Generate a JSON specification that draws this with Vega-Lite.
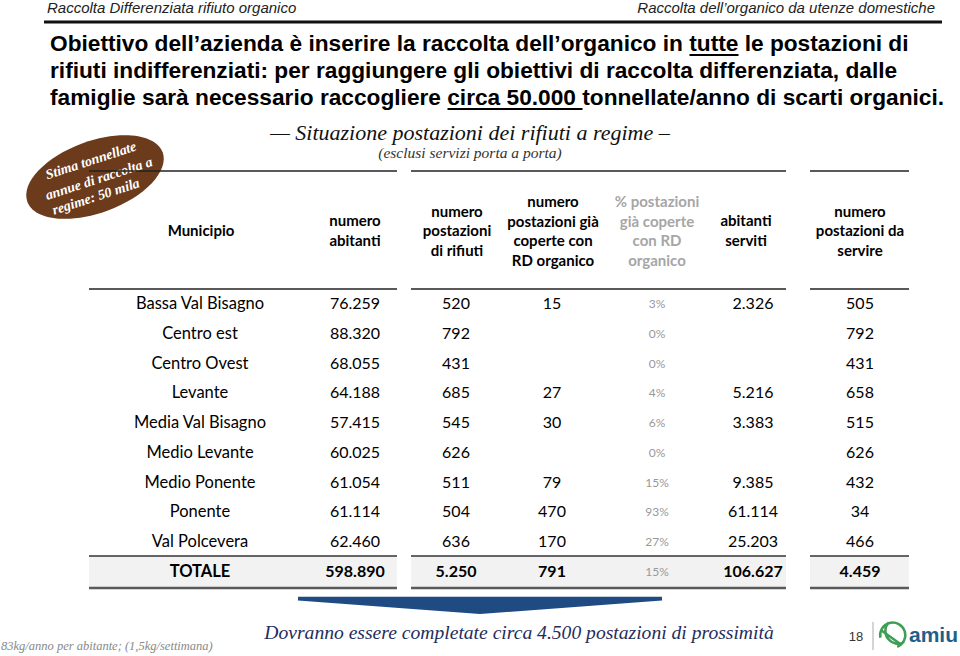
{
  "$schema": "https://vega.github.io/schema/vega-lite/v6.json",
  "width": 960,
  "height": 656,
  "autosize": {"type": "fit", "contains": "padding"},
  "padding": 0,
  "background": "white",
  "config": {
    "view": {"stroke": null},
    "axis": {"disable": true},
    "locale": {"number": {"decimal": ",", "thousands": ".", "grouping": [3], "currency": ["€", ""]}}
  },
  "resolve": {"scale": {"y": "independent"}},
  "layer": [
    {
      "data": {"values": [{}]},
      "layer": [
        {"mark": {"type": "text", "text": "Raccolta Differenziata rifiuto organico", "font": "Liberation Sans Narrow, Arial Narrow, Liberation Sans", "fontStyle": "italic", "fontSize": 15, "align": "left", "baseline": "middle", "color": "#222"},
         "encoding": {"x": {"datum": 47, "type": "quantitative", "scale": {"domain": [0, 960]}}, "y": {"datum": 8, "type": "quantitative", "scale": {"domain": [0, 656], "reverse": true}}}},
        {"mark": {"type": "text", "text": "Raccolta dell’organico da utenze domestiche", "font": "Liberation Sans Narrow, Arial Narrow, Liberation Sans", "fontStyle": "italic", "fontSize": 15, "align": "right", "baseline": "middle", "color": "#222"},
         "encoding": {"x": {"datum": 935, "type": "quantitative", "scale": {"domain": [0, 960]}}, "y": {"datum": 8, "type": "quantitative", "scale": {"domain": [0, 656], "reverse": true}}}},
        {"mark": {"type": "rule", "color": "#111", "strokeWidth": 3},
         "encoding": {"x": {"datum": 44, "type": "quantitative", "scale": {"domain": [0, 960]}}, "x2": {"datum": 942}, "y": {"datum": 22, "type": "quantitative", "scale": {"domain": [0, 656], "reverse": true}}}},
        {"mark": {"type": "text", "text": "Obiettivo dell’azienda è inserire la raccolta dell’organico in tutte le postazioni di", "font": "Liberation Sans Narrow, Arial Narrow, Liberation Sans", "fontWeight": "bold", "fontSize": 22.7, "align": "left", "baseline": "alphabetic", "color": "#000"},
         "encoding": {"x": {"datum": 50, "type": "quantitative", "scale": {"domain": [0, 960]}}, "y": {"datum": 51, "type": "quantitative", "scale": {"domain": [0, 656], "reverse": true}}}},
        {"mark": {"type": "text", "text": "rifiuti indifferenziati: per raggiungere gli obiettivi di raccolta differenziata, dalle", "font": "Liberation Sans Narrow, Arial Narrow, Liberation Sans", "fontWeight": "bold", "fontSize": 22.7, "align": "left", "baseline": "alphabetic", "color": "#000"},
         "encoding": {"x": {"datum": 50, "type": "quantitative", "scale": {"domain": [0, 960]}}, "y": {"datum": 78, "type": "quantitative", "scale": {"domain": [0, 656], "reverse": true}}}},
        {"mark": {"type": "text", "text": "famiglie sarà necessario raccogliere circa 50.000 tonnellate/anno di scarti organici.", "font": "Liberation Sans Narrow, Arial Narrow, Liberation Sans", "fontWeight": "bold", "fontSize": 22.7, "align": "left", "baseline": "alphabetic", "color": "#000"},
         "encoding": {"x": {"datum": 50, "type": "quantitative", "scale": {"domain": [0, 960]}}, "y": {"datum": 105, "type": "quantitative", "scale": {"domain": [0, 656], "reverse": true}}}},
        {"mark": {"type": "rule", "color": "#000", "strokeWidth": 2},
         "encoding": {"x": {"datum": 689.5, "type": "quantitative", "scale": {"domain": [0, 960]}}, "x2": {"datum": 738.5}, "y": {"datum": 55, "type": "quantitative", "scale": {"domain": [0, 656], "reverse": true}}}},
        {"mark": {"type": "rule", "color": "#000", "strokeWidth": 2},
         "encoding": {"x": {"datum": 447.5, "type": "quantitative", "scale": {"domain": [0, 960]}}, "x2": {"datum": 582.5}, "y": {"datum": 109, "type": "quantitative", "scale": {"domain": [0, 656], "reverse": true}}}},
        {"mark": {"type": "text", "text": "— Situazione postazioni dei rifiuti a regime –", "font": "Liberation Serif", "fontStyle": "italic", "fontSize": 22, "align": "center", "baseline": "middle", "color": "#111"},
         "encoding": {"x": {"datum": 470, "type": "quantitative", "scale": {"domain": [0, 960]}}, "y": {"datum": 133, "type": "quantitative", "scale": {"domain": [0, 656], "reverse": true}}}},
        {"mark": {"type": "text", "text": "(esclusi servizi porta a porta)", "font": "Liberation Serif", "fontStyle": "italic", "fontSize": 15.5, "align": "center", "baseline": "middle", "color": "#333"},
         "encoding": {"x": {"datum": 470, "type": "quantitative", "scale": {"domain": [0, 960]}}, "y": {"datum": 153, "type": "quantitative", "scale": {"domain": [0, 656], "reverse": true}}}},
        {"mark": {"type": "point", "shape": "M -1 0 A 1 0.5 0 1 1 1 0 A 1 0.5 0 1 1 -1 0 Z", "size": 20736, "angle": 340, "filled": true, "color": "#6b3b1b", "opacity": 1},
         "encoding": {"x": {"datum": 95, "type": "quantitative", "scale": {"domain": [0, 960]}}, "y": {"datum": 177, "type": "quantitative", "scale": {"domain": [0, 656], "reverse": true}}}},
        {"mark": {"type": "text", "text": "Stima tonnellate", "font": "Liberation Serif", "fontStyle": "italic", "fontWeight": "bold", "fontSize": 14, "angle": 342, "align": "center", "baseline": "middle", "color": "#ffffff"},
         "encoding": {"x": {"datum": 91, "type": "quantitative", "scale": {"domain": [0, 960]}}, "y": {"datum": 161, "type": "quantitative", "scale": {"domain": [0, 656], "reverse": true}}}},
        {"mark": {"type": "text", "text": "annue di raccolta  a", "font": "Liberation Serif", "fontStyle": "italic", "fontWeight": "bold", "fontSize": 14, "angle": 342, "align": "center", "baseline": "middle", "color": "#ffffff"},
         "encoding": {"x": {"datum": 99, "type": "quantitative", "scale": {"domain": [0, 960]}}, "y": {"datum": 179, "type": "quantitative", "scale": {"domain": [0, 656], "reverse": true}}}},
        {"mark": {"type": "text", "text": "regime: 50 mila", "font": "Liberation Serif", "fontStyle": "italic", "fontWeight": "bold", "fontSize": 14, "angle": 342, "align": "center", "baseline": "middle", "color": "#ffffff"},
         "encoding": {"x": {"datum": 96, "type": "quantitative", "scale": {"domain": [0, 960]}}, "y": {"datum": 197, "type": "quantitative", "scale": {"domain": [0, 656], "reverse": true}}}},
        {"mark": {"type": "text", "text": "Municipio", "font": "Lato", "fontWeight": "bold", "fontSize": 15, "align": "center", "baseline": "middle", "color": "#000"},
         "encoding": {"x": {"datum": 201, "type": "quantitative", "scale": {"domain": [0, 960]}}, "y": {"datum": 231, "type": "quantitative", "scale": {"domain": [0, 656], "reverse": true}}}},
        {"mark": {"type": "text", "text": ["numero", "abitanti"], "font": "Lato", "fontWeight": "bold", "fontSize": 15, "lineHeight": 19.7, "align": "center", "baseline": "middle", "color": "#000"},
         "encoding": {"x": {"datum": 355, "type": "quantitative", "scale": {"domain": [0, 960]}}, "y": {"datum": 221, "type": "quantitative", "scale": {"domain": [0, 656], "reverse": true}}}},
        {"mark": {"type": "text", "text": ["numero", "postazioni", "di rifiuti"], "font": "Lato", "fontWeight": "bold", "fontSize": 15, "lineHeight": 19.7, "align": "center", "baseline": "middle", "color": "#000"},
         "encoding": {"x": {"datum": 457, "type": "quantitative", "scale": {"domain": [0, 960]}}, "y": {"datum": 211.5, "type": "quantitative", "scale": {"domain": [0, 656], "reverse": true}}}},
        {"mark": {"type": "text", "text": ["numero", "postazioni già", "coperte con", "RD organico"], "font": "Lato", "fontWeight": "bold", "fontSize": 15, "lineHeight": 19.7, "align": "center", "baseline": "middle", "color": "#000"},
         "encoding": {"x": {"datum": 553, "type": "quantitative", "scale": {"domain": [0, 960]}}, "y": {"datum": 202, "type": "quantitative", "scale": {"domain": [0, 656], "reverse": true}}}},
        {"mark": {"type": "text", "text": ["% postazioni", "già coperte", "con RD", "organico"], "font": "Lato", "fontWeight": "bold", "fontSize": 15, "lineHeight": 19.7, "align": "center", "baseline": "middle", "color": "#a6a6a6"},
         "encoding": {"x": {"datum": 657, "type": "quantitative", "scale": {"domain": [0, 960]}}, "y": {"datum": 202, "type": "quantitative", "scale": {"domain": [0, 656], "reverse": true}}}},
        {"mark": {"type": "text", "text": ["abitanti", "serviti"], "font": "Lato", "fontWeight": "bold", "fontSize": 15, "lineHeight": 19.7, "align": "center", "baseline": "middle", "color": "#000"},
         "encoding": {"x": {"datum": 746, "type": "quantitative", "scale": {"domain": [0, 960]}}, "y": {"datum": 221, "type": "quantitative", "scale": {"domain": [0, 656], "reverse": true}}}},
        {"mark": {"type": "text", "text": ["numero", "postazioni da", "servire"], "font": "Lato", "fontWeight": "bold", "fontSize": 15, "lineHeight": 19.7, "align": "center", "baseline": "middle", "color": "#000"},
         "encoding": {"x": {"datum": 860, "type": "quantitative", "scale": {"domain": [0, 960]}}, "y": {"datum": 211.5, "type": "quantitative", "scale": {"domain": [0, 656], "reverse": true}}}},
        {"mark": {"type": "rect", "color": "#f2f2f2"},
         "encoding": {"x": {"datum": 89, "type": "quantitative", "scale": {"domain": [0, 960]}}, "x2": {"datum": 397}, "y": {"datum": 556, "type": "quantitative", "scale": {"domain": [0, 656], "reverse": true}}, "y2": {"datum": 587}}},
        {"mark": {"type": "rect", "color": "#f2f2f2"},
         "encoding": {"x": {"datum": 411, "type": "quantitative", "scale": {"domain": [0, 960]}}, "x2": {"datum": 786}, "y": {"datum": 556, "type": "quantitative", "scale": {"domain": [0, 656], "reverse": true}}, "y2": {"datum": 587}}},
        {"mark": {"type": "rect", "color": "#f2f2f2"},
         "encoding": {"x": {"datum": 810, "type": "quantitative", "scale": {"domain": [0, 960]}}, "x2": {"datum": 909}, "y": {"datum": 556, "type": "quantitative", "scale": {"domain": [0, 656], "reverse": true}}, "y2": {"datum": 587}}},
        {"mark": {"type": "rule", "color": "#222", "strokeWidth": 1.5},
         "encoding": {"x": {"datum": 89, "type": "quantitative", "scale": {"domain": [0, 960]}}, "x2": {"datum": 397}, "y": {"datum": 171, "type": "quantitative", "scale": {"domain": [0, 656], "reverse": true}}}},
        {"mark": {"type": "rule", "color": "#222", "strokeWidth": 1.5},
         "encoding": {"x": {"datum": 411, "type": "quantitative", "scale": {"domain": [0, 960]}}, "x2": {"datum": 786}, "y": {"datum": 171, "type": "quantitative", "scale": {"domain": [0, 656], "reverse": true}}}},
        {"mark": {"type": "rule", "color": "#222", "strokeWidth": 1.5},
         "encoding": {"x": {"datum": 810, "type": "quantitative", "scale": {"domain": [0, 960]}}, "x2": {"datum": 909}, "y": {"datum": 171, "type": "quantitative", "scale": {"domain": [0, 656], "reverse": true}}}},
        {"mark": {"type": "rule", "color": "#222", "strokeWidth": 1.5},
         "encoding": {"x": {"datum": 89, "type": "quantitative", "scale": {"domain": [0, 960]}}, "x2": {"datum": 397}, "y": {"datum": 289, "type": "quantitative", "scale": {"domain": [0, 656], "reverse": true}}}},
        {"mark": {"type": "rule", "color": "#222", "strokeWidth": 1.5},
         "encoding": {"x": {"datum": 411, "type": "quantitative", "scale": {"domain": [0, 960]}}, "x2": {"datum": 786}, "y": {"datum": 289, "type": "quantitative", "scale": {"domain": [0, 656], "reverse": true}}}},
        {"mark": {"type": "rule", "color": "#222", "strokeWidth": 1.5},
         "encoding": {"x": {"datum": 810, "type": "quantitative", "scale": {"domain": [0, 960]}}, "x2": {"datum": 909}, "y": {"datum": 289, "type": "quantitative", "scale": {"domain": [0, 656], "reverse": true}}}},
        {"mark": {"type": "rule", "color": "#333", "strokeWidth": 1.5},
         "encoding": {"x": {"datum": 89, "type": "quantitative", "scale": {"domain": [0, 960]}}, "x2": {"datum": 397}, "y": {"datum": 556, "type": "quantitative", "scale": {"domain": [0, 656], "reverse": true}}}},
        {"mark": {"type": "rule", "color": "#333", "strokeWidth": 1.5},
         "encoding": {"x": {"datum": 411, "type": "quantitative", "scale": {"domain": [0, 960]}}, "x2": {"datum": 786}, "y": {"datum": 556, "type": "quantitative", "scale": {"domain": [0, 656], "reverse": true}}}},
        {"mark": {"type": "rule", "color": "#333", "strokeWidth": 1.5},
         "encoding": {"x": {"datum": 810, "type": "quantitative", "scale": {"domain": [0, 960]}}, "x2": {"datum": 909}, "y": {"datum": 556, "type": "quantitative", "scale": {"domain": [0, 656], "reverse": true}}}},
        {"mark": {"type": "rule", "color": "#5a5a5a", "strokeWidth": 2.5},
         "encoding": {"x": {"datum": 89, "type": "quantitative", "scale": {"domain": [0, 960]}}, "x2": {"datum": 397}, "y": {"datum": 588, "type": "quantitative", "scale": {"domain": [0, 656], "reverse": true}}}},
        {"mark": {"type": "rule", "color": "#5a5a5a", "strokeWidth": 2.5},
         "encoding": {"x": {"datum": 411, "type": "quantitative", "scale": {"domain": [0, 960]}}, "x2": {"datum": 786}, "y": {"datum": 588, "type": "quantitative", "scale": {"domain": [0, 656], "reverse": true}}}},
        {"mark": {"type": "rule", "color": "#5a5a5a", "strokeWidth": 2.5},
         "encoding": {"x": {"datum": 810, "type": "quantitative", "scale": {"domain": [0, 960]}}, "x2": {"datum": 909}, "y": {"datum": 588, "type": "quantitative", "scale": {"domain": [0, 656], "reverse": true}}}},
        {"mark": {"type": "point", "shape": "M -1 -0.045 L 1 -0.045 L 1 -0.025 L 0 0.05 L -1 -0.025 Z", "size": 132496, "filled": true, "color": "#1f4a82", "opacity": 1},
         "encoding": {"x": {"datum": 480, "type": "quantitative", "scale": {"domain": [0, 960]}}, "y": {"datum": 605, "type": "quantitative", "scale": {"domain": [0, 656], "reverse": true}}}},
        {"mark": {"type": "text", "text": "Dovranno essere completate circa 4.500 postazioni di prossimità", "font": "Liberation Serif", "fontStyle": "italic", "fontSize": 19.6, "align": "center", "baseline": "middle", "color": "#1f2d5c"},
         "encoding": {"x": {"datum": 519, "type": "quantitative", "scale": {"domain": [0, 960]}}, "y": {"datum": 633, "type": "quantitative", "scale": {"domain": [0, 656], "reverse": true}}}},
        {"mark": {"type": "text", "text": "83kg/anno per abitante; (1,5kg/settimana)", "font": "Liberation Serif", "fontStyle": "italic", "fontSize": 12.5, "align": "left", "baseline": "middle", "color": "#888"},
         "encoding": {"x": {"datum": 1, "type": "quantitative", "scale": {"domain": [0, 960]}}, "y": {"datum": 646, "type": "quantitative", "scale": {"domain": [0, 656], "reverse": true}}}},
        {"mark": {"type": "text", "text": "18", "font": "Liberation Sans", "fontSize": 13, "align": "center", "baseline": "middle", "color": "#333"},
         "encoding": {"x": {"datum": 856, "type": "quantitative", "scale": {"domain": [0, 960]}}, "y": {"datum": 637, "type": "quantitative", "scale": {"domain": [0, 656], "reverse": true}}}},
        {"mark": {"type": "rule", "color": "#aaa", "strokeWidth": 1},
         "encoding": {"x": {"datum": 873, "type": "quantitative", "scale": {"domain": [0, 960]}}, "y": {"datum": 622, "type": "quantitative", "scale": {"domain": [0, 656], "reverse": true}}, "y2": {"datum": 650}}},
        {"mark": {"type": "point", "shape": "M -0.9 0.2 A 0.9 0.9 0 1 1 0.3 0.85 M -0.3 -0.9 A 0.9 0.9 0 0 0 0.8 0.5 M -0.8 -0.3 L 0.6 0.7", "size": 784, "filled": false, "strokeWidth": 2.5, "color": "#3f9e55", "opacity": 1},
         "encoding": {"x": {"datum": 893, "type": "quantitative", "scale": {"domain": [0, 960]}}, "y": {"datum": 635, "type": "quantitative", "scale": {"domain": [0, 656], "reverse": true}}}},
        {"mark": {"type": "text", "text": "amiu", "font": "Liberation Sans", "fontWeight": "bold", "fontSize": 21, "align": "left", "baseline": "middle", "color": "#1f5f8b"},
         "encoding": {"x": {"datum": 909, "type": "quantitative", "scale": {"domain": [0, 960]}}, "y": {"datum": 636, "type": "quantitative", "scale": {"domain": [0, 656], "reverse": true}}}}
      ]
    },
    {
      "data": {"values": [
        {"Municipio": "Bassa Val Bisagno", "abitanti": 76259, "postazioni": 520, "coperte": 15, "pct": 0.03, "serviti": 2326, "daServire": 505},
        {"Municipio": "Centro est", "abitanti": 88320, "postazioni": 792, "coperte": null, "pct": 0.0, "serviti": null, "daServire": 792},
        {"Municipio": "Centro Ovest", "abitanti": 68055, "postazioni": 431, "coperte": null, "pct": 0.0, "serviti": null, "daServire": 431},
        {"Municipio": "Levante", "abitanti": 64188, "postazioni": 685, "coperte": 27, "pct": 0.04, "serviti": 5216, "daServire": 658},
        {"Municipio": "Media Val Bisagno", "abitanti": 57415, "postazioni": 545, "coperte": 30, "pct": 0.06, "serviti": 3383, "daServire": 515},
        {"Municipio": "Medio Levante", "abitanti": 60025, "postazioni": 626, "coperte": null, "pct": 0.0, "serviti": null, "daServire": 626},
        {"Municipio": "Medio Ponente", "abitanti": 61054, "postazioni": 511, "coperte": 79, "pct": 0.15, "serviti": 9385, "daServire": 432},
        {"Municipio": "Ponente", "abitanti": 61114, "postazioni": 504, "coperte": 470, "pct": 0.93, "serviti": 61114, "daServire": 34},
        {"Municipio": "Val Polcevera", "abitanti": 62460, "postazioni": 636, "coperte": 170, "pct": 0.27, "serviti": 25203, "daServire": 466},
        {"Municipio": "TOTALE", "abitanti": 598890, "postazioni": 5250, "coperte": 791, "pct": 0.15, "serviti": 106627, "daServire": 4459}
      ]},
      "encoding": {
        "y": {"field": "Municipio", "type": "nominal", "scale": {"type": "point", "padding": 0, "domain": ["Bassa Val Bisagno", "Centro est", "Centro Ovest", "Levante", "Media Val Bisagno", "Medio Levante", "Medio Ponente", "Ponente", "Val Polcevera", "TOTALE"], "range": [304, 572]}}
      },
      "layer": [
        {"mark": {"type": "text", "font": "Lato", "fontSize": 16.5, "align": "center", "baseline": "middle", "color": "#000", "fontWeight": {"expr": "datum.Municipio === 'TOTALE' ? 'bold' : 'normal'"}},
         "encoding": {"x": {"datum": 200, "type": "quantitative", "scale": {"domain": [0, 960]}}, "text": {"field": "Municipio", "type": "nominal"}}},
        {"mark": {"type": "text", "font": "Lato", "fontSize": 16, "align": "center", "baseline": "middle", "color": "#000", "fontWeight": {"expr": "datum.Municipio === 'TOTALE' ? 'bold' : 'normal'"}},
         "encoding": {"x": {"datum": 355, "type": "quantitative", "scale": {"domain": [0, 960]}}, "text": {"field": "abitanti", "type": "quantitative", "format": ",d"}}},
        {"mark": {"type": "text", "font": "Lato", "fontSize": 16, "align": "center", "baseline": "middle", "color": "#000", "fontWeight": {"expr": "datum.Municipio === 'TOTALE' ? 'bold' : 'normal'"}},
         "encoding": {"x": {"datum": 456, "type": "quantitative", "scale": {"domain": [0, 960]}}, "text": {"field": "postazioni", "type": "quantitative", "format": ",d"}}},
        {"transform": [{"filter": "isValid(datum.coperte)"}],
         "mark": {"type": "text", "font": "Lato", "fontSize": 16, "align": "center", "baseline": "middle", "color": "#000", "fontWeight": {"expr": "datum.Municipio === 'TOTALE' ? 'bold' : 'normal'"}},
         "encoding": {"x": {"datum": 552, "type": "quantitative", "scale": {"domain": [0, 960]}}, "text": {"field": "coperte", "type": "quantitative", "format": ",d"}}},
        {"mark": {"type": "text", "font": "Lato", "fontSize": 12, "align": "center", "baseline": "middle", "color": "#999"},
         "encoding": {"x": {"datum": 657, "type": "quantitative", "scale": {"domain": [0, 960]}}, "text": {"field": "pct", "type": "quantitative", "format": ".0%"}}},
        {"transform": [{"filter": "isValid(datum.serviti)"}],
         "mark": {"type": "text", "font": "Lato", "fontSize": 16, "align": "center", "baseline": "middle", "color": "#000", "fontWeight": {"expr": "datum.Municipio === 'TOTALE' ? 'bold' : 'normal'"}},
         "encoding": {"x": {"datum": 753, "type": "quantitative", "scale": {"domain": [0, 960]}}, "text": {"field": "serviti", "type": "quantitative", "format": ",d"}}},
        {"mark": {"type": "text", "font": "Lato", "fontSize": 16, "align": "center", "baseline": "middle", "color": "#000", "fontWeight": {"expr": "datum.Municipio === 'TOTALE' ? 'bold' : 'normal'"}},
         "encoding": {"x": {"datum": 860, "type": "quantitative", "scale": {"domain": [0, 960]}}, "text": {"field": "daServire", "type": "quantitative", "format": ",d"}}}
      ]
    }
  ]
}
